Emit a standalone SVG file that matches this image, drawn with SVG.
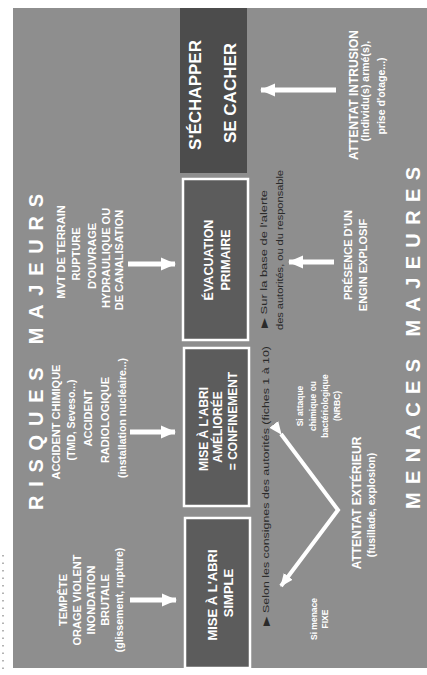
<svg xmlns="http://www.w3.org/2000/svg" width="427" height="675" viewBox="0 0 427 675">
  <defs>
    <marker id="ah" markerUnits="userSpaceOnUse" markerWidth="16" markerHeight="16" refX="14" refY="8" orient="auto">
      <polygon points="0,1.5 15,8 0,14.5" fill="#ffffff"/>
    </marker>
    <marker id="ahs" markerUnits="userSpaceOnUse" markerWidth="14" markerHeight="14" refX="12" refY="7" orient="auto">
      <polygon points="0,1.5 13,7 0,12.5" fill="#ffffff"/>
    </marker>
  </defs>
  <style>
    .t { font-family: "Liberation Sans", Arial, sans-serif; font-weight: bold; fill: #ffffff; text-anchor: middle; }
    .title { font-size: 20px; }
    .risk { font-size: 11px; }
    .sub { font-size: 10.5px; }
    .box { fill: #5c5c5c; stroke: #ffffff; stroke-width: 2.5; }
    .boxtxt { font-size: 12.5px; }
    .dark { font-family: "Liberation Sans", Arial, sans-serif; font-size: 9px; fill: #2a2a2a; text-anchor: start; }
    .arr { stroke: #ffffff; stroke-width: 5; fill: none; }
    .arrv { stroke: #ffffff; stroke-width: 4; fill: none; }
  </style>

  <rect x="0" y="0" width="427" height="675" fill="#ffffff"/>
  <line x1="3" y1="555" x2="3" y2="675" stroke="#9a9a9a" stroke-width="1.5" stroke-dasharray="1.5 6"/>
  <rect id="background" x="13" y="8" width="414" height="660" fill="#8e8e8e"/>

  <!-- Titles -->
  <g id="title-risques">
    <text class="t title" transform="translate(43,352) rotate(-90)" textLength="316" lengthAdjust="spacing">RISQUES MAJEURS</text>
  </g>
  <g id="title-menaces">
    <text class="t title" transform="translate(420,338) rotate(-90)" textLength="342" lengthAdjust="spacing">MENACES MAJEURES</text>
  </g>

  <!-- Risk sources -->
  <g id="risk-tempete" class="t risk">
    <text transform="translate(67,600) rotate(-90)">TEMPÊTE</text>
    <text transform="translate(81,600) rotate(-90)">ORAGE VIOLENT</text>
    <text transform="translate(95,600) rotate(-90)">INONDATION</text>
    <text transform="translate(109,600) rotate(-90)">BRUTALE</text>
    <text class="sub" transform="translate(123,600) rotate(-90)">(glissement, rupture)</text>
  </g>
  <g id="risk-accident" class="t risk">
    <text transform="translate(60,422) rotate(-90)">ACCIDENT CHIMIQUE</text>
    <text class="sub" transform="translate(75,420) rotate(-90)">(TMD, Seveso...)</text>
    <text transform="translate(92,418) rotate(-90)">ACCIDENT</text>
    <text transform="translate(109,420) rotate(-90)">RADIOLOGIQUE</text>
    <text class="sub" transform="translate(126,418) rotate(-90)">(installation nucléaire...)</text>
  </g>
  <g id="risk-terrain" class="t risk">
    <text transform="translate(65,252) rotate(-90)">MVT DE TERRAIN</text>
    <text transform="translate(80,254) rotate(-90)">RUPTURE</text>
    <text transform="translate(96,256) rotate(-90)">D'OUVRAGE</text>
    <text transform="translate(110,258) rotate(-90)">HYDRAULIQUE OU</text>
    <text transform="translate(123,260) rotate(-90)">DE CANALISATION</text>
  </g>

  <!-- Response boxes -->
  <g id="box-echapper">
    <rect x="180" y="8" width="67" height="165" fill="#4c4c4c"/>
    <text class="t" style="font-size:17px" transform="translate(201,95) rotate(-90)">S'ÉCHAPPER</text>
    <text class="t" style="font-size:17px" transform="translate(236,93) rotate(-90)">SE CACHER</text>
  </g>
  <g id="box-evacuation">
    <rect class="box" x="183" y="179" width="65" height="161"/>
    <text class="t boxtxt" transform="translate(213,260) rotate(-90)">ÉVACUATION</text>
    <text class="t boxtxt" transform="translate(230,260) rotate(-90)">PRIMAIRE</text>
  </g>
  <g id="box-confinement">
    <rect class="box" x="184" y="348" width="65" height="158"/>
    <text class="t" style="font-size:12px" transform="translate(208,429) rotate(-90)">MISE À L'ABRI</text>
    <text class="t" style="font-size:12px" transform="translate(222,427) rotate(-90)">AMÉLIORÉE</text>
    <text class="t" style="font-size:12px" transform="translate(237,421) rotate(-90)">= CONFINEMENT</text>
  </g>
  <g id="box-simple">
    <rect class="box" x="185" y="518" width="65" height="150"/>
    <text class="t" style="font-size:13px" transform="translate(217,595) rotate(-90)">MISE À L'ABRI</text>
    <text class="t" style="font-size:13px" transform="translate(233,593) rotate(-90)">SIMPLE</text>
  </g>

  <!-- Threat sources -->
  <g id="threat-intrusion">
    <text class="t" style="font-size:12px" transform="translate(358,95) rotate(-90)">ATTENTAT INTRUSION</text>
    <text class="t sub" transform="translate(369,91) rotate(-90)">(Individu(s) armé(s),</text>
    <text class="t sub" transform="translate(385,96) rotate(-90)">prise d'otage...)</text>
  </g>
  <g id="threat-engin">
    <text class="t risk" transform="translate(352,255) rotate(-90)">PRÉSENCE D'UN</text>
    <text class="t risk" transform="translate(367,265) rotate(-90)">ENGIN EXPLOSIF</text>
  </g>
  <g id="threat-exterieur">
    <text class="t" style="font-size:12px" transform="translate(361,503) rotate(-90)">ATTENTAT EXTÉRIEUR</text>
    <text class="t sub" transform="translate(375,505) rotate(-90)">(fusillade, explosion)</text>
  </g>
  <g id="note-nrbc" class="t" style="font-size:8.5px">
    <text transform="translate(303,406) rotate(-90)">Si attaque</text>
    <text transform="translate(316,406) rotate(-90)">chimique ou</text>
    <text transform="translate(328,406) rotate(-90)">bactériologique</text>
    <text transform="translate(340,406) rotate(-90)">(NRBC)</text>
  </g>
  <g id="note-fixe" class="t" style="font-size:8.5px">
    <text transform="translate(317,619) rotate(-90)">Si menace</text>
    <text transform="translate(328,619) rotate(-90)">FIXE</text>
  </g>

  <!-- Dark notes -->
  <g id="note-autorites-1">
    <text class="dark" transform="translate(269,626) rotate(-90)" textLength="280" lengthAdjust="spacingAndGlyphs">▶ Selon les consignes des autorités (fiches 1 à 10)</text>
  </g>
  <g id="note-autorites-2">
    <text class="dark" transform="translate(267,328) rotate(-90)" textLength="138" lengthAdjust="spacingAndGlyphs">▶ Sur la base de l'alerte</text>
    <text class="dark" transform="translate(283,330) rotate(-90)" textLength="160" lengthAdjust="spacingAndGlyphs">des autorités, ou du responsable</text>
  </g>

  <!-- Connectors -->
  <g id="connectors">
    <line class="arr" x1="130" y1="600" x2="176" y2="600" marker-end="url(#ah)"/>
    <line class="arr" x1="130" y1="432" x2="175" y2="432" marker-end="url(#ah)"/>
    <line class="arr" x1="128" y1="264" x2="175" y2="264" marker-end="url(#ah)"/>
    <line class="arr" x1="336" y1="90" x2="261" y2="90" marker-end="url(#ah)"/>
    <line class="arr" x1="334" y1="262" x2="289" y2="262" marker-end="url(#ah)"/>
    <polyline class="arrv" points="281,434 338,510 281,586" marker-start="url(#ahs)" marker-end="url(#ahs)" stroke-linejoin="miter"/>
  </g>
</svg>
